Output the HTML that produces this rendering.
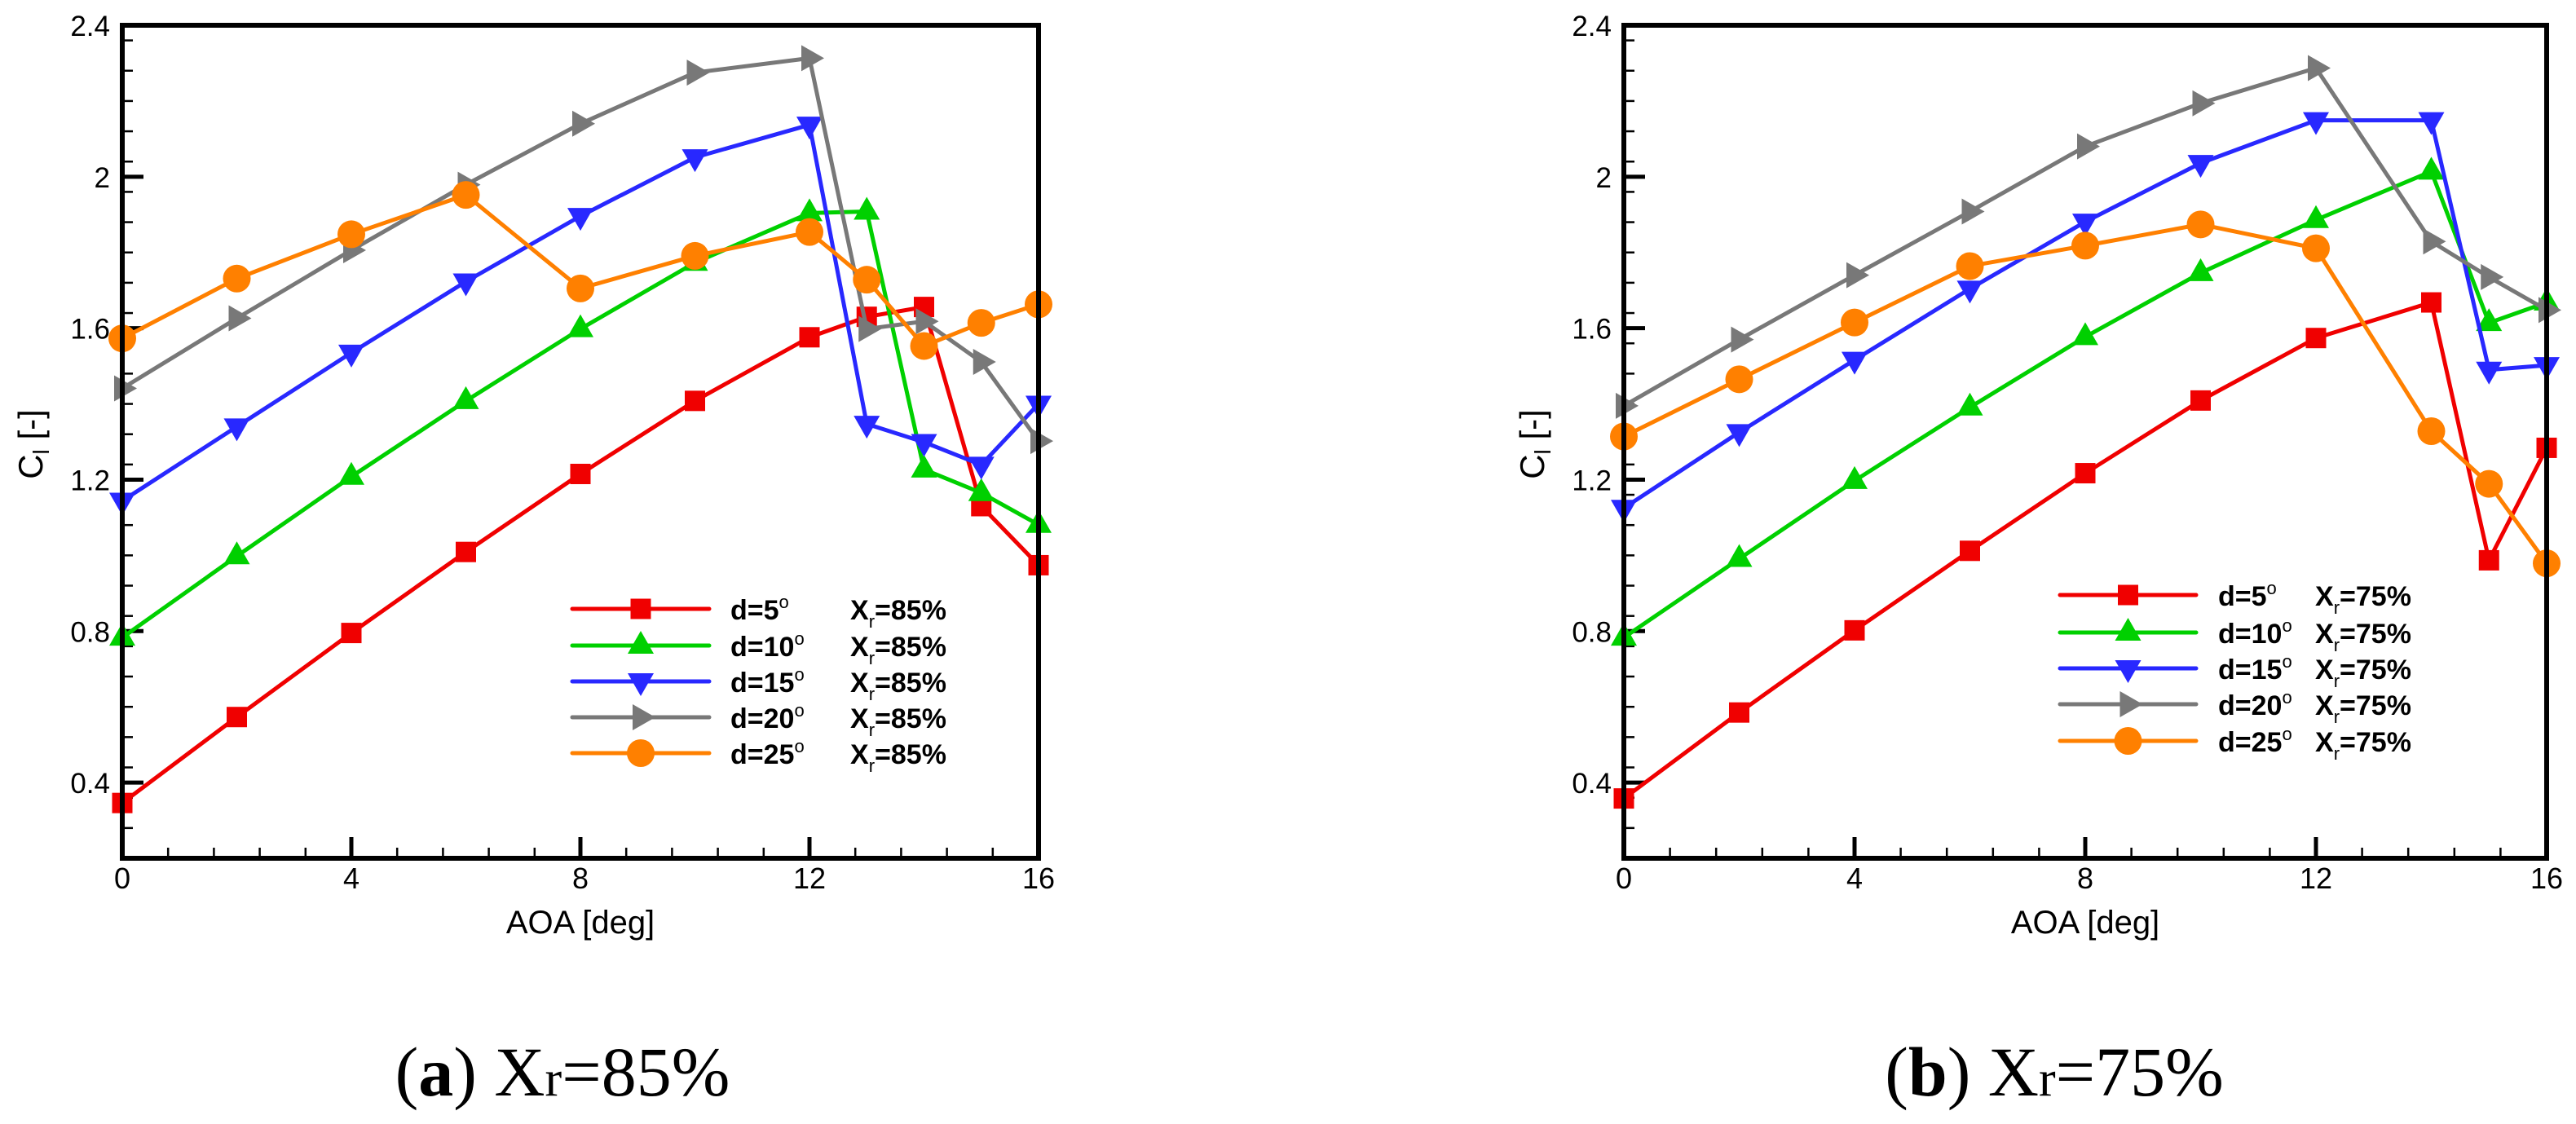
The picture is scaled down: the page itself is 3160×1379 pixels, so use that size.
<!DOCTYPE html>
<html><head><meta charset="utf-8"><style>
html,body{margin:0;padding:0;background:#fff;}
svg{display:block;}
</style></head><body>
<svg id="fig" width="3160" height="1379" viewBox="0 0 3160 1379" xmlns="http://www.w3.org/2000/svg">
<g id="chartA"></g>
<g id="chartB"></g>
<text x="690" y="1344" text-anchor="middle" font-family="Liberation Serif, serif" font-size="86">(<tspan font-weight="bold">a</tspan>) X<tspan font-size="62">r</tspan>=85%</text>
<text x="2520" y="1344" text-anchor="middle" font-family="Liberation Serif, serif" font-size="86">(<tspan font-weight="bold">b</tspan>) X<tspan font-size="62">r</tspan>=75%</text>
</svg>
<script>
const xTickValues = [0, 4, 8, 12, 16];
const yTickValues = [0.4, 0.8, 1.2, 1.6, 2.0, 2.4];
const yTickLabels = ["0.4", "0.8", "1.2", "1.6", "2", "2.4"];
const seriesLabels = ["d=5", "d=10", "d=15", "d=20", "d=25"];

const aoaA = [0, 2, 4, 6, 8, 10, 12, 13, 14, 15, 16];
const a_d5 = [0.346, 0.573, 0.795, 1.009, 1.215, 1.408, 1.576, 1.63, 1.656, 1.13, 0.974];
const a_d10 = [0.783, 0.998, 1.208, 1.408, 1.598, 1.773, 1.904, 1.908, 1.227, 1.165, 1.081];
const a_d15 = [1.144, 1.34, 1.535, 1.723, 1.896, 2.051, 2.137, 1.347, 1.299, 1.239, 1.4];
const a_d20 = [1.441, 1.626, 1.806, 1.979, 2.14, 2.275, 2.313, 1.598, 1.618, 1.511, 1.302];
const a_d25 = [1.573, 1.731, 1.848, 1.952, 1.705, 1.791, 1.854, 1.728, 1.553, 1.614, 1.663];

const aoaB = [0, 2, 4, 6, 8, 10, 12, 14, 15, 16];
const b_d5 = [0.358, 0.585, 0.802, 1.012, 1.217, 1.409, 1.574, 1.668, 0.987, 1.284];
const b_d10 = [0.783, 0.991, 1.197, 1.391, 1.577, 1.746, 1.886, 2.014, 1.614, 1.668];
const b_d15 = [1.125, 1.325, 1.516, 1.704, 1.881, 2.036, 2.149, 2.149, 1.49, 1.502];
const b_d20 = [1.395, 1.57, 1.74, 1.908, 2.08, 2.194, 2.287, 1.829, 1.735, 1.648];
const b_d25 = [1.314, 1.465, 1.615, 1.764, 1.818, 1.874, 1.811, 1.328, 1.189, 0.979];

const NS = "http://www.w3.org/2000/svg";
const colors = ["#f00000", "#00d000", "#2828ff", "#787878", "#ff8000"];
const markers = ["square", "up", "down", "right", "circle"];

function mk(parent, tag, attrs) {
  const e = document.createElementNS(NS, tag);
  for (const k in attrs) e.setAttribute(k, attrs[k]);
  parent.appendChild(e);
  return e;
}

function marker(g, type, cx, cy, color) {
  let e;
  if (type === "square") e = mk(g, "rect", {x: cx - 12.5, y: cy - 12.5, width: 25, height: 25, fill: color});
  else if (type === "circle") e = mk(g, "circle", {cx: cx, cy: cy, r: 17, fill: color});
  else if (type === "up") e = mk(g, "polygon", {points: `${cx},${cy-18} ${cx-16},${cy+10} ${cx+16},${cy+10}`, fill: color});
  else if (type === "down") e = mk(g, "polygon", {points: `${cx},${cy+18} ${cx-16},${cy-10} ${cx+16},${cy-10}`, fill: color});
  else e = mk(g, "polygon", {points: `${cx+18},${cy} ${cx-10},${cy-16} ${cx-10},${cy+16}`, fill: color});
  return e;
}

function drawChart(gid, L, R, xs, series, pct, legX, legTextX, legXrX, legY, ylabX) {
  const g = document.getElementById(gid);
  const T = 31, B = 1053;
  const sx = v => L + (v - 0) / 16 * (R - L);
  const sy = v => B - (v - 0.2) / 2.2 * (B - T);
  // minor x ticks every 0.8
  for (let i = 1; i < 20; i++) {
    const x = sx(i * 0.8);
    const t = mk(g, "line", {x1: x, x2: x, y1: B, y2: B - 13, stroke: "#000", "stroke-width": 2.5});
    
    
  }
  for (let i = 0; i < 28; i++) {
    const v = 0.2 + i * 0.08;
    if (v > 2.39) break;
    const y = sy(v);
    const t = mk(g, "line", {x1: L, x2: L + 13, y1: y, y2: y, stroke: "#000", "stroke-width": 2.5});
    
    
  }
  xTickValues.forEach(v => {
    const x = sx(v);
    const t = mk(g, "line", {x1: x, x2: x, y1: B, y2: B - 26, stroke: "#000", "stroke-width": 5});
    
    
    const lb = mk(g, "text", {x: x, y: 1090, "text-anchor": "middle", "font-family": "Liberation Sans, sans-serif", "font-size": 36});
    lb.textContent = String(v);
    
    
  });
  yTickValues.forEach((v, i) => {
    const y = sy(v);
    const t = mk(g, "line", {x1: L, x2: L + 26, y1: y, y2: y, stroke: "#000", "stroke-width": 5});
    
    
    const lb = mk(g, "text", {x: L - 15, y: y + 13, "text-anchor": "end", "font-family": "Liberation Sans, sans-serif", "font-size": 35});
    lb.textContent = yTickLabels[i];
    
    
  });
  // series
  series.forEach((vals, si) => {
    const sg = mk(g, "g", {});
    
    
    const pts = vals.map((v, i) => sx(xs[i]) + "," + sy(v)).join(" ");
    const pl = mk(sg, "polyline", {points: pts, fill: "none", stroke: colors[si], "stroke-width": 5, "stroke-linejoin": "round"});
    
    
    vals.forEach((v, i) => {
      const m = marker(sg, markers[si], sx(xs[i]), sy(v), colors[si]);
      
      
    });
  });
  // frame
  const fr = mk(g, "rect", {x: L, y: T, width: R - L, height: B - T, fill: "none", stroke: "#000", "stroke-width": 6});
  
  
  // axis titles
  const xt = mk(g, "text", {x: (L + R) / 2, y: 1145, "text-anchor": "middle", "font-family": "Liberation Sans, sans-serif", "font-size": 40});
  xt.textContent = "AOA [deg]";
  
  
  const yt = mk(g, "text", {x: 0, y: 0, "text-anchor": "middle", "font-family": "Liberation Sans, sans-serif", "font-size": 42, transform: `translate(${ylabX},545) rotate(-90)`});
  yt.innerHTML = 'C<tspan font-size="28" dy="8">l</tspan><tspan dy="-8"> [-]</tspan>';
  
  
  // legend
  const lg = mk(g, "g", {});
  
  
  seriesLabels.forEach((s, i) => {
    const y = legY[i];
    const eg = mk(lg, "g", {});
    
    
    mk(eg, "line", {x1: legX[0], x2: legX[1], y1: y, y2: y, stroke: colors[i], "stroke-width": 5, "stroke-linecap": "round"});
    marker(eg, markers[i], (legX[0] + legX[1]) / 2, y, colors[i]);
    const t = mk(eg, "text", {x: legTextX, y: y + 13, "font-family": "Liberation Sans, sans-serif", "font-size": 34, "font-weight": "bold"});
    t.innerHTML = s + '<tspan font-size="22" dy="-14" font-weight="normal">o</tspan>';
    const t2 = mk(eg, "text", {x: legXrX, y: y + 13, "font-family": "Liberation Sans, sans-serif", "font-size": 34, "font-weight": "bold"});
    t2.innerHTML = 'X<tspan font-size="22" dy="10" font-weight="normal">r</tspan><tspan dy="-10">=' + pct + '</tspan>';
  });
}

drawChart("chartA", 150, 1274, aoaA, [a_d5, a_d10, a_d15, a_d20, a_d25], "85%",
  [702, 870], 896, 1043, [747, 792, 836, 880, 924], 52);
drawChart("chartB", 1992, 3124, aoaB, [b_d5, b_d10, b_d15, b_d20, b_d25], "75%",
  [2527, 2694], 2721, 2840, [730, 776, 820, 864, 909], 1894);
</script>
</body></html>
